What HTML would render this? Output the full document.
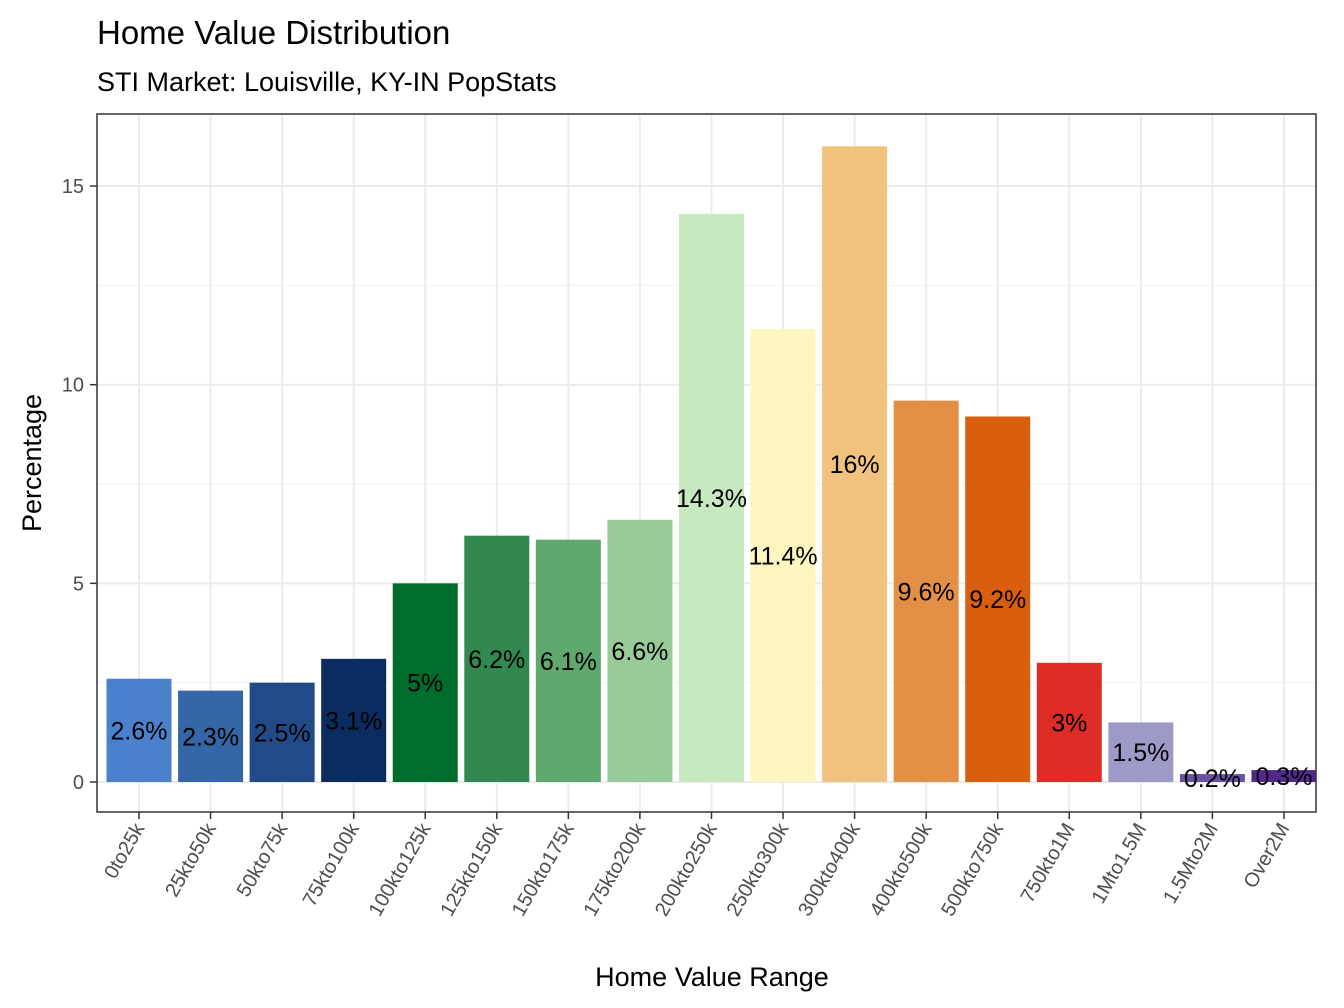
<!DOCTYPE html>
<html><head><meta charset="utf-8"><style>body{margin:0;background:#fff}svg{display:block;font-family:"Liberation Sans",Arial,sans-serif}</style></head>
<body>
<svg id="chart" width="1344" height="1008" viewBox="0 0 1344 1008">
<text x="97" y="44" font-size="33" fill="#000">Home Value Distribution</text>
<text x="97" y="91" font-size="27" fill="#000">STI Market: Louisville, KY-IN PopStats</text>
<g id="grid"></g>
<g id="bars"></g>
<g id="labels"></g>
<rect x="97" y="114" width="1219" height="698" fill="none" stroke="#333" stroke-width="1.5"/>
<g id="yaxis"></g>
<g id="xaxis"></g>
<text x="712" y="986" font-size="27" text-anchor="middle">Home Value Range</text>
<text transform="translate(41,463) rotate(-90)" font-size="27" text-anchor="middle">Percentage</text>
</svg>
<script>
const categories=["0to25k","25kto50k","50kto75k","75kto100k","100kto125k","125kto150k","150kto175k","175kto200k","200kto250k","250kto300k","300kto400k","400kto500k","500kto750k","750kto1M","1Mto1.5M","1.5Mto2M","Over2M"];
const values=[2.6,2.3,2.5,3.1,5,6.2,6.1,6.6,14.3,11.4,16,9.6,9.2,3,1.5,0.2,0.3];
const valueLabels=["2.6%","2.3%","2.5%","3.1%","5%","6.2%","6.1%","6.6%","14.3%","11.4%","16%","9.6%","9.2%","3%","1.5%","0.2%","0.3%"];
const colors=["#4a80cc","#3566a8","#234a88","#0b2c60","#006d2c","#31894f","#5fa86e","#98cb98","#c7e9c0","#fef6be","#f0c27e","#e39046","#d95f0e","#de2d26","#9e9ac8","#6a51a3","#54278f"];
const majorTicks=[0,5,10,15];
const minorTicks=[2.5,7.5,12.5];
const NS="http://www.w3.org/2000/svg";
const y=v=>782-v*39.73;
const x=i=>139+i*71.56;
const bw=65;
function mk(tag,attrs,parent){const e=document.createElementNS(NS,tag);for(const k in attrs)e.setAttribute(k,attrs[k]);parent.appendChild(e);return e;}
const grid=document.getElementById('grid'),bars=document.getElementById('bars'),labels=document.getElementById('labels'),ya=document.getElementById('yaxis'),xa=document.getElementById('xaxis');
minorTicks.forEach(t=>{const l=mk('line',{x1:97,x2:1316,y1:y(t),y2:y(t),stroke:'#f0f0f0','stroke-width':1},grid);});
majorTicks.forEach(t=>{const l=mk('line',{x1:97,x2:1316,y1:y(t),y2:y(t),stroke:'#ebebeb','stroke-width':2},grid);
const tk=mk('line',{x1:90,x2:97,y1:y(t),y2:y(t),stroke:'#333','stroke-width':1.5},ya);
const tx=mk('text',{x:84,y:y(t)+7,'font-size':20,'text-anchor':'end',fill:'#4d4d4d'},ya);tx.textContent=t;});
categories.forEach((c,i)=>{const cx=x(i);
const g=mk('line',{x1:cx,x2:cx,y1:114,y2:812,stroke:'#ebebeb','stroke-width':2},grid);
const r=mk('rect',{x:cx-bw/2,y:y(values[i]),width:bw,height:y(0)-y(values[i]),fill:colors[i]},bars);
const t=mk('text',{x:cx,y:y(values[i]/2)+9,'font-size':25,'text-anchor':'middle',fill:'#000'},labels);t.textContent=valueLabels[i];
const tk=mk('line',{x1:cx,x2:cx,y1:812,y2:819,stroke:'#333','stroke-width':1.5},xa);
const tl=mk('text',{transform:`translate(${cx+6},${828}) rotate(-60)`,'font-size':20,'text-anchor':'end',fill:'#4d4d4d'},xa);tl.textContent=c;});
</script>
</body></html>
